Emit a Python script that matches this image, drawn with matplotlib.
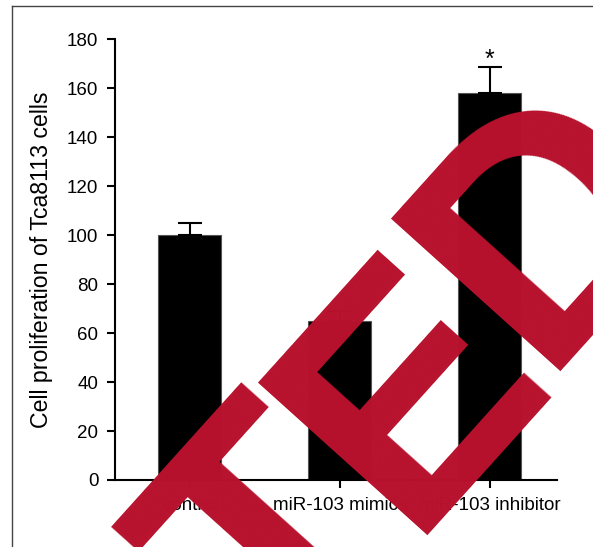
import numpy as np
import matplotlib.pyplot as plt
from matplotlib.lines import Line2D

"1|DATA"
groups = ["control", "miR-103 mimics", "miR-103 inhibitor"]
values = [100, 65, 158]
errors = [5, 4, 10.5]
stars = ["", "", "*"]
y_ticks = [0, 20, 40, 60, 80, 100, 120, 140, 160, 180]
watermark = ["T", "E", "D"]

"2|FIGURE"
plt.rcParams['font.family'] = ['Liberation Sans', 'DejaVu Sans']
fig = plt.figure(figsize=(5.93, 5.47), dpi=100)
ax = fig.add_axes([0.1939, 0.1225, 0.7454, 0.806])

x = np.arange(len(groups))
ax.bar(x, values, width=0.42, color="black", edgecolor="#555555", linewidth=0.8)
ax.errorbar(x, values, yerr=[np.zeros(len(errors)), errors], fmt="none",
            ecolor="black", elinewidth=1.5, capsize=8.6, capthick=1.5)
for xi, v, e, s in zip(x, values, errors, stars):
    if s:
        ax.text(xi, v + e - 2, s, ha="center", va="bottom", fontsize=18)

### AXIS
ax.set_xlim(-0.5, 2.447)
ax.set_ylim(0, 180)
ax.set_yticks(y_ticks)
ax.set_xticks(x)
ax.set_xticklabels(groups)
ax.set_ylabel("Cell proliferation of Tca8113 cells", fontsize=16.7, labelpad=10)
ax.tick_params(axis="both", labelsize=13.5, width=1.5, length=6, pad=6)
for side in ["top", "right"]:
    ax.spines[side].set_visible(False)
for side in ["left", "bottom"]:
    ax.spines[side].set_linewidth(1.5)

### FRAME (cropped panel border)
fig.add_artist(Line2D([12/593, 1.0], [1 - 6/547, 1 - 6/547],
                      transform=fig.transFigure, color="#444444", lw=1.0))
fig.add_artist(Line2D([12/593, 12/593], [0.0, 1 - 6/547],
                      transform=fig.transFigure, color="#444444", lw=1.0))

### RETRACTION WATERMARK (letters placed along a 48 degree baseline)
wm_x = [0.4659, 0.6848, 0.9095]
wm_y = [-0.2418, 0.0217, 0.3226]
for letter, lx, ly in zip(watermark, wm_x, wm_y):
    fig.text(lx, ly, letter, rotation=48, rotation_mode="anchor",
             ha="left", va="baseline", fontsize=238, fontweight="bold",
             color="#B8122D", family="Liberation Sans")

fig.savefig("out.png", dpi=100)
